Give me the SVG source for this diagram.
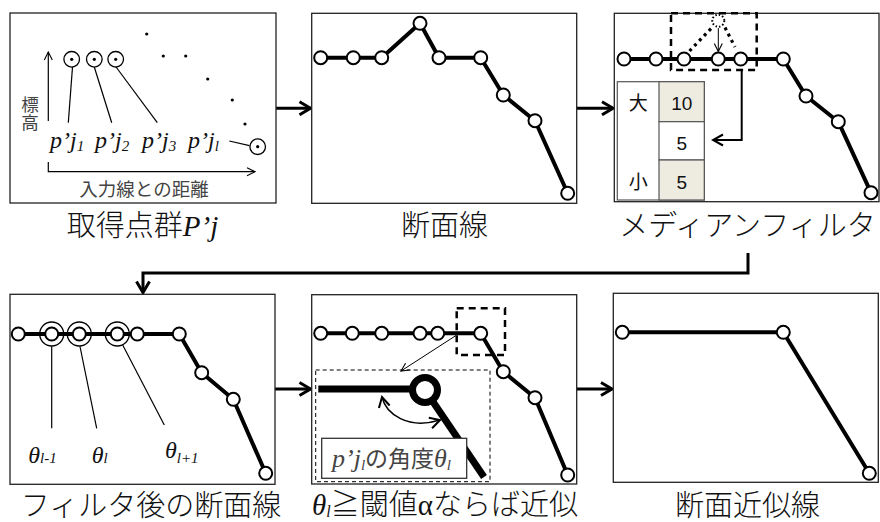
<svg xmlns="http://www.w3.org/2000/svg" width="880" height="522" viewBox="0 0 880 522">
<defs>
<style>
.panel{fill:#fff;stroke:#222;stroke-width:1.3}
.prof{fill:none;stroke:#000;stroke-width:4;stroke-linejoin:round}
.pt{fill:#fff;stroke:#000;stroke-width:2}
.conn{fill:none;stroke:#000;stroke-width:3}
.thin{fill:none;stroke:#000;stroke-width:1.2}
.cap{font-family:"Liberation Serif","Noto Sans CJK JP",serif;font-size:29px;fill:#111;font-weight:300}
.it{font-family:"Liberation Serif",serif;font-style:italic}
.lab{font-family:"Liberation Serif",serif;font-style:italic;font-size:24px;fill:#111}
.gl{font-family:"Noto Sans CJK JP",sans-serif;fill:#444}
.tb{font-family:"Liberation Sans","Noto Sans CJK JP",sans-serif;font-size:19px;fill:#111;text-anchor:middle}
.dot{fill:#000}
.ring{fill:none;stroke:#000;stroke-width:1.3}
</style>
<marker id="ah" markerUnits="userSpaceOnUse" markerWidth="16" markerHeight="16" refX="13" refY="8" orient="auto"><path d="M2,1.5 L13,8 L2,14.5" fill="none" stroke="#000" stroke-width="3"/></marker>
<marker id="ahm" markerUnits="userSpaceOnUse" markerWidth="14" markerHeight="14" refX="12" refY="7" orient="auto-start-reverse"><path d="M2,1.5 L12,7 L2,12.5" fill="none" stroke="#000" stroke-width="2"/></marker>
<marker id="ahs" markerUnits="userSpaceOnUse" markerWidth="10" markerHeight="10" refX="9" refY="5" orient="auto"><path d="M1,1 L9,5 L1,9" fill="none" stroke="#000" stroke-width="1.1"/></marker>
</defs>
<rect width="880" height="522" fill="#fff"/>

<g id="connectors">
<line class="conn" x1="276" y1="108.3" x2="310.5" y2="108.3" marker-end="url(#ah)"/>
<line class="conn" x1="577" y1="108.3" x2="613" y2="108.3" marker-end="url(#ah)"/>
<path class="conn" d="M748,253 V273 H143 V292.5" marker-end="url(#ah)"/>
<line class="conn" x1="275" y1="389" x2="310.5" y2="389" marker-end="url(#ah)"/>
<line class="conn" x1="577" y1="389" x2="612" y2="389" marker-end="url(#ah)"/>
</g>

<g id="panel1">
<rect class="panel" x="10" y="13" width="266" height="190"/>
<line class="thin" x1="48.3" y1="121" x2="48.3" y2="52" stroke-width="1" marker-end="url(#ahs)"/>
<path class="thin" d="M48.3,162 V171.7 H255" stroke-width="1" marker-end="url(#ahs)"/>
<text class="gl" x="30" y="96" font-size="17.5" writing-mode="vertical-rl">標高</text>
<text class="gl" x="144" y="195.5" font-size="18.5" text-anchor="middle">入力線との距離</text>
<circle class="ring" cx="71.7" cy="59.3" r="7.8"/>
<circle class="ring" cx="94.3" cy="59.3" r="7.8"/>
<circle class="ring" cx="115.7" cy="59.3" r="7.8"/>
<circle class="ring" cx="257.7" cy="146.7" r="7.8"/>
<circle class="dot" cx="71.7" cy="59.3" r="1.6"/>
<circle class="dot" cx="94.3" cy="59.3" r="1.6"/>
<circle class="dot" cx="115.7" cy="59.3" r="1.6"/>
<circle class="dot" cx="257.7" cy="146.7" r="1.6"/>
<circle class="dot" cx="146.7" cy="34" r="1.6"/>
<circle class="dot" cx="163.3" cy="56" r="1.6"/>
<circle class="dot" cx="185.7" cy="56" r="1.6"/>
<circle class="dot" cx="207.7" cy="79" r="1.6"/>
<circle class="dot" cx="232.3" cy="100" r="1.6"/>
<circle class="dot" cx="245" cy="124" r="1.6"/>
<line class="thin" x1="72.5" y1="67" x2="68.3" y2="122.7"/>
<line class="thin" x1="94.3" y1="67" x2="111.7" y2="122.7"/>
<line class="thin" x1="115.7" y1="66.5" x2="157.3" y2="122.7"/>
<line class="thin" x1="229.3" y1="141" x2="249.5" y2="145.7"/>
<text class="lab" x="50" y="148">p’j<tspan font-size="15" dy="3">1</tspan></text>
<text class="lab" x="95" y="148">p’j<tspan font-size="15" dy="3">2</tspan></text>
<text class="lab" x="142" y="148">p’j<tspan font-size="15" dy="3">3</tspan></text>
<text class="lab" x="188" y="148">p’j<tspan font-size="15" dy="3">l</tspan></text>
<text class="cap" x="142.5" y="236" text-anchor="middle">取得点群<tspan class="it">P’j</tspan></text>
</g>

<g id="panel2">
<rect class="panel" x="311.7" y="13.3" width="265" height="190"/>
<polyline class="prof" points="320.7,57.7 353.3,57.7 381.7,57.7 420,23.3 439,57.7 480.7,57.7 503.3,95 535,120.7 567.7,193.3"/>
<g class="pt">
<circle cx="320.7" cy="57.7" r="6.5"/><circle cx="353.3" cy="57.7" r="6.5"/><circle cx="381.7" cy="57.7" r="6.5"/><circle cx="420" cy="23.3" r="6.5"/><circle cx="439" cy="57.7" r="6.5"/><circle cx="480.7" cy="57.7" r="6.5"/><circle cx="503.3" cy="95" r="6.5"/><circle cx="535" cy="120.7" r="6.5"/><circle cx="567.7" cy="193.3" r="6.5"/>
</g>
<text class="cap" x="444.5" y="236" text-anchor="middle">断面線</text>
</g>

<g id="panel3">
<rect class="panel" x="614.3" y="13.3" width="264.7" height="188.4"/>
<polyline class="prof" points="624,59 656,59 684,59 718.3,59 740.7,59 783.3,59 806,96 838.3,121.7 871,192.7"/>
<g class="pt">
<circle cx="624" cy="59" r="6.5"/><circle cx="656" cy="59" r="6.5"/><circle cx="684" cy="59" r="6.5"/><circle cx="718.3" cy="59" r="6.5"/><circle cx="740.7" cy="59" r="6.5"/><circle cx="783.3" cy="59" r="6.5"/><circle cx="806" cy="96" r="6.5"/><circle cx="838.3" cy="121.7" r="6.5"/><circle cx="871" cy="192.7" r="6.5"/>
</g>
<rect x="671" y="13.3" width="85.7" height="56.7" fill="none" stroke="#000" stroke-width="2.5" stroke-dasharray="7,5"/>
<circle cx="718.3" cy="20.7" r="6" fill="none" stroke="#000" stroke-width="2" stroke-dasharray="1.5,2"/>
<line x1="689.5" y1="51" x2="712" y2="27.5" stroke="#000" stroke-width="3.2" stroke-dasharray="3,4"/>
<line x1="725" y1="27.5" x2="735" y2="47" stroke="#000" stroke-width="3.2" stroke-dasharray="3,4"/>
<line x1="718.3" y1="28" x2="718.3" y2="51.5" stroke="#000" stroke-width="1" marker-end="url(#ahs)"/>
<rect x="617.3" y="81.7" width="87" height="118.3" fill="#fff" stroke="#555" stroke-width="1.2"/>
<rect x="659" y="81.7" width="45.3" height="40" fill="#EEECE1" stroke="#555" stroke-width="1.2"/>
<rect x="659" y="121.7" width="45.3" height="38.3" fill="#fff" stroke="#555" stroke-width="1.2"/>
<rect x="659" y="160" width="45.3" height="40" fill="#EEECE1" stroke="#555" stroke-width="1.2"/>
<text class="tb" x="638.3" y="110">大</text>
<text class="tb" x="681.7" y="110">10</text>
<text class="tb" x="681.7" y="150">5</text>
<text class="tb" x="638.3" y="188.5">小</text>
<text class="tb" x="681.7" y="188.5">5</text>
<path d="M741.7,70 V140 H713" fill="none" stroke="#000" stroke-width="2" marker-end="url(#ahm)"/>
<text class="cap" x="747.5" y="236" text-anchor="middle">メディアンフィルタ</text>
</g>

<g id="panel4">
<rect class="panel" x="10" y="294.3" width="265" height="190"/>
<polyline class="prof" points="18.3,334 51.7,334 79.3,334 117.3,334 137.3,334 179.3,334 201.7,372.7 233.3,399.3 265.7,473.3"/>
<circle class="ring" cx="51.7" cy="334" r="12" stroke-width="1"/>
<circle class="ring" cx="79.3" cy="334" r="12" stroke-width="1"/>
<circle class="ring" cx="117.3" cy="334" r="12" stroke-width="1"/>
<g class="pt">
<circle cx="18.3" cy="334" r="6.5"/><circle cx="51.7" cy="334" r="6.5"/><circle cx="79.3" cy="334" r="6.5"/><circle cx="117.3" cy="334" r="6.5"/><circle cx="137.3" cy="334" r="6.5"/><circle cx="179.3" cy="334" r="6.5"/><circle cx="201.7" cy="372.7" r="6.5"/><circle cx="233.3" cy="399.3" r="6.5"/><circle cx="265.7" cy="473.3" r="6.5"/>
</g>
<line class="thin" x1="51.7" y1="346.5" x2="51.7" y2="428.3" stroke-width="1"/>
<line class="thin" x1="80" y1="346.5" x2="96.7" y2="428.3" stroke-width="1"/>
<line class="thin" x1="122.7" y1="345" x2="164.3" y2="425" stroke-width="1"/>
<text class="lab" x="28.3" y="463" font-size="23">θ<tspan font-size="15" dy="0">l-1</tspan></text>
<text class="lab" x="91.7" y="463" font-size="23">θ<tspan font-size="15" dy="0">l</tspan></text>
<text class="lab" x="165" y="458" font-size="23">θ<tspan font-size="15" dy="5">l+1</tspan></text>
<text class="cap" x="151" y="516" text-anchor="middle">フィルタ後の断面線</text>
</g>

<g id="panel5">
<rect class="panel" x="311.7" y="294.7" width="265" height="189.3"/>
<polyline class="prof" points="320.7,333.3 352.3,333.3 381.7,333.3 420,333.3 437.7,333.3 480.7,333.3 503.3,371.7 535,397.7 567.7,475"/>
<g class="pt">
<circle cx="320.7" cy="333.3" r="6.5"/><circle cx="352.3" cy="333.3" r="6.5"/><circle cx="381.7" cy="333.3" r="6.5"/><circle cx="420" cy="333.3" r="6.5"/><circle cx="437.7" cy="333.3" r="6.5"/><circle cx="480.7" cy="333.3" r="6.5"/><circle cx="503.3" cy="371.7" r="6.5"/><circle cx="535" cy="397.7" r="6.5"/><circle cx="567.7" cy="475" r="6.5"/>
</g>
<rect x="456.7" y="308.3" width="48.3" height="46.7" fill="none" stroke="#000" stroke-width="2.5" stroke-dasharray="7,5"/>
<line x1="456" y1="335.5" x2="401" y2="371" stroke="#000" stroke-width="1" marker-end="url(#ahs)"/>
<rect x="315.7" y="370" width="174.3" height="111.7" fill="none" stroke="#000" stroke-width="1" stroke-dasharray="4,3"/>
<line x1="318.3" y1="389" x2="425" y2="389" stroke="#000" stroke-width="7"/>
<line x1="425" y1="390" x2="484" y2="477" stroke="#000" stroke-width="7"/>
<circle cx="425" cy="390" r="12.5" fill="#fff" stroke="#000" stroke-width="7"/>
<path d="M382,397 C386,414 408,430 440,420" fill="none" stroke="#000" stroke-width="1.5" marker-start="url(#ahm)" marker-end="url(#ahm)"/>
<rect x="321.7" y="438.3" width="145" height="40" fill="#fff" stroke="#333" stroke-width="1.3"/>
<text x="332" y="467" font-size="23" fill="#444" font-family="Liberation Serif,Noto Sans CJK JP,serif"><tspan class="it" font-size="26">p’j</tspan><tspan class="it" font-size="15" dy="3">l</tspan><tspan dy="-3">の角度</tspan><tspan class="it" font-size="26">θ</tspan><tspan class="it" font-size="15" dy="3">l</tspan></text>
<text class="cap" x="312" y="515"><tspan class="it">θ</tspan><tspan class="it" font-size="16" dy="2">l</tspan><tspan dy="-2">≧閾値</tspan><tspan>α</tspan>ならば近似</text>
</g>

<g id="panel6">
<rect class="panel" x="613.3" y="293.3" width="265" height="189"/>
<polyline class="prof" points="622.3,332.3 783.3,332.3 869.3,473.3"/>
<g class="pt">
<circle cx="622.3" cy="332.3" r="6.5"/><circle cx="783.3" cy="332.3" r="6.5"/><circle cx="869.3" cy="473.3" r="6.5"/>
</g>
<text class="cap" x="747.5" y="516" text-anchor="middle">断面近似線</text>
</g>
</svg>
